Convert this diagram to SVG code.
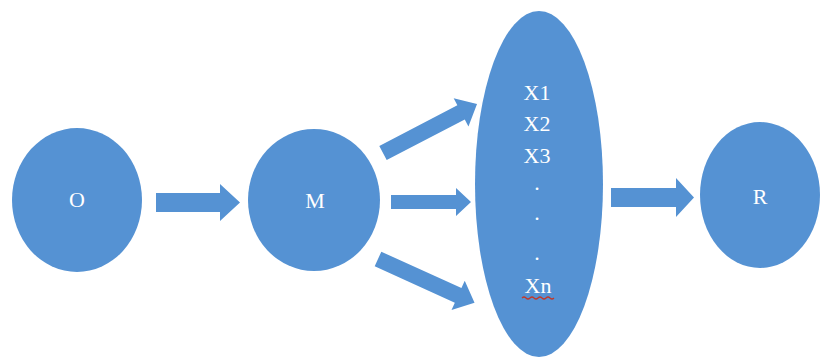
<svg xmlns="http://www.w3.org/2000/svg" width="823" height="360" viewBox="0 0 823 360">
<style>
.n{fill:#5592d3;}
.a{fill:#5592d3;}
.t{fill:#ffffff;font-family:"Liberation Serif",serif;font-size:22px;text-anchor:middle;}
</style>
<rect width="823" height="360" fill="#ffffff"/>
<g id="connectors">
<polygon class="a" points="156,193 220,193 220,184 240,202.5 220,221 220,212 156,212"/>
<g transform="translate(383,153) rotate(-27.5)">
<polygon class="a" points="0,-8 88,-8 88,-16 106,0 88,16 88,8 0,8"/>
</g>
<polygon class="a" points="391,195 456,195 456,188 471,202 456,216 456,209 391,209"/>
<g transform="translate(378,259) rotate(24.4)">
<polygon class="a" points="0,-8 88,-8 88,-16 106,0 88,16 88,8 0,8"/>
</g>
<polygon class="a" points="611,188 676,188 676,178 694,197.5 676,217 676,207 611,207"/>
</g>
<g id="O">
<ellipse class="n" cx="77" cy="200" rx="65" ry="72"/>
<text class="t" x="77" y="207">O</text>
</g>
<g id="M">
<ellipse class="n" cx="314" cy="200" rx="66" ry="71"/>
<text class="t" x="315" y="208">M</text>
</g>
<g id="X">
<ellipse class="n" cx="539" cy="184" rx="64" ry="173"/>
<text class="t" x="537" y="100">X1</text>
<text class="t" x="537" y="131">X2</text>
<text class="t" x="537" y="163">X3</text>
<text class="t" x="537" y="190">.</text>
<text class="t" x="537" y="220">.</text>
<text class="t" x="537" y="260">.</text>
<text class="t" x="538" y="293">Xn</text>
<path d="M522,298 q2,-2 4,0 t4,0 t4,0 t4,0 t4,0 t4,0 t4,0 t4,0" fill="none" stroke="#c0392b" stroke-width="1.2"/>
</g>
<g id="R">
<ellipse class="n" cx="760" cy="195" rx="60" ry="73"/>
<text class="t" x="760" y="204">R</text>
</g>
</svg>
